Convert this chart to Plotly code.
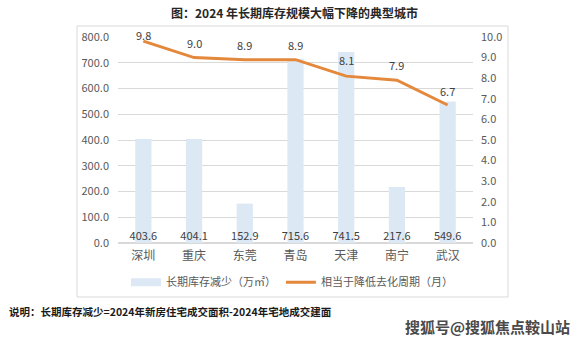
import plotly.graph_objects as go

cities = ["深圳", "重庆", "东莞", "青岛", "天津", "南宁", "武汉"]
inventory_drop = [403.6, 404.1, 152.9, 715.6, 741.5, 217.6, 549.6]
cycle_drop = [9.8, 9.0, 8.9, 8.9, 8.1, 7.9, 6.7]
left_ticks = [0, 100, 200, 300, 400, 500, 600, 700, 800]
right_ticks = [0, 1, 2, 3, 4, 5, 6, 7, 8, 9, 10]
label_shift = [6, 15, 15, 15, 16, 15, 14]

FONT = "Noto Sans CJK SC"
W, H = 581, 343
L, R, T, B = 118, 108, 37, 100
pw, ph = W - L - R, H - T - B
BAR_COLOR = "#DCE9F5"
LINE_COLOR = "#E4883C"

fig = go.Figure()
fig.add_trace(go.Bar(
    x=cities, y=inventory_drop, name="长期库存减少（万㎡）",
    marker=dict(color=BAR_COLOR, line=dict(width=0)), width=0.32,
    hoverinfo="skip", showlegend=False,
))
fig.add_trace(go.Scatter(
    x=cities, y=[0] * len(cities), mode="text",
    text=[f"{v:.1f}" for v in inventory_drop], textposition="top center",
    textfont=dict(family=FONT, size=11, color="#404040"),
    showlegend=False, cliponaxis=False, hoverinfo="skip",
))
# legend entry for bars (wide swatch like the original)
fig.add_trace(go.Scatter(
    x=[None], y=[None], mode="lines", name="长期库存减少（万㎡）",
    line=dict(color=BAR_COLOR, width=8), hoverinfo="skip",
))
fig.add_trace(go.Scatter(
    x=cities, y=cycle_drop, name="相当于降低去化周期（月）", yaxis="y2",
    mode="lines", line=dict(color=LINE_COLOR, width=3),
    cliponaxis=False, hoverinfo="skip",
))
for c, v, s in zip(cities, cycle_drop, label_shift):
    fig.add_annotation(x=c, y=v, xref="x", yref="y2", text=f"{v:.1f}",
                       showarrow=False, yshift=s, yanchor="middle",
                       font=dict(family=FONT, size=11, color="#404040"))

fig.update_layout(
    width=W, height=H,
    margin=dict(l=L, r=R, t=T, b=B, pad=0),
    paper_bgcolor="white", plot_bgcolor="white",
    font=dict(family=FONT, size=11, color="#595959"),
    showlegend=True,
    legend=dict(orientation="h", x=0.49, xanchor="center", y=-0.19, yanchor="middle",
                font=dict(family=FONT, size=11, color="#595959"),
                itemwidth=30, bgcolor="rgba(0,0,0,0)"),
    xaxis=dict(type="category", showgrid=False, showline=False, zeroline=False,
               ticks="", ticklabelstandoff=4,
               tickfont=dict(family=FONT, size=12, color="#595959")),
    yaxis=dict(range=[0, 800], tickvals=left_ticks,
               ticktext=[f"{v:.1f}" for v in left_ticks],
               showgrid=True, gridcolor="#D9D9D9", gridwidth=1,
               zeroline=True, zerolinecolor="#D9D9D9", showline=False,
               ticks="", ticklabelstandoff=8,
               tickfont=dict(family=FONT, size=11, color="#595959")),
    yaxis2=dict(range=[0, 10], tickvals=right_ticks,
                ticktext=[f"{v:.1f}" for v in right_ticks],
                overlaying="y", side="right", showgrid=False, zeroline=False,
                showline=False, ticks="", ticklabelstandoff=7,
                tickfont=dict(family=FONT, size=11, color="#595959")),
)

def px_x(x):
    return (x - L) / pw

def px_y(y):
    return (H - B - y) / ph

fig.add_shape(type="rect", xref="paper", yref="paper",
              x0=px_x(77), x1=px_x(508), y0=px_y(297), y1=px_y(26),
              line=dict(color="#D9D9D9", width=1), fillcolor="rgba(0,0,0,0)", layer="below")

fig.add_annotation(text="<b>图：2024 年长期库存规模大幅下降的典型城市</b>",
                   xref="paper", yref="paper", x=px_x(294), y=px_y(12),
                   xanchor="center", yanchor="middle", showarrow=False,
                   font=dict(family=FONT, size=12, color="#262626"))
fig.add_annotation(text="<b>说明：长期库存减少=2024年新房住宅成交面积-2024年宅地成交建面</b>",
                   xref="paper", yref="paper", x=px_x(7), y=px_y(311),
                   xanchor="left", yanchor="middle", showarrow=False,
                   font=dict(family=FONT, size=10.5, color="#1a1a1a"))
fig.add_annotation(text="<b>搜狐号@搜狐焦点鞍山站</b>",
                   xref="paper", yref="paper", x=px_x(572), y=px_y(326),
                   xanchor="right", yanchor="middle", showarrow=False,
                   font=dict(family=FONT, size=15, color="#4a4a4a"))

fig.write_html("out.html")
